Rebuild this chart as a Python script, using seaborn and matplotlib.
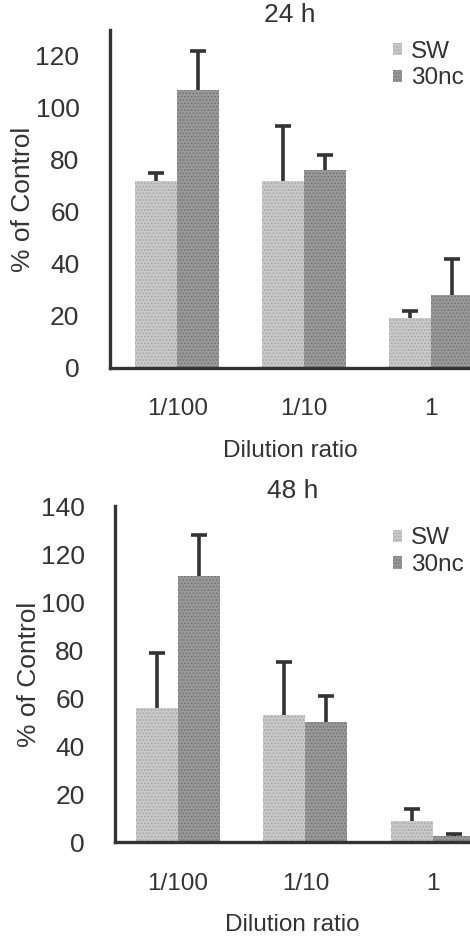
import numpy as np
import pandas as pd
import matplotlib
matplotlib.use('Agg')
import matplotlib.pyplot as plt
import seaborn as sns
from matplotlib.patches import Patch

# data
dilution = ['1/100', '1/10', '1']
groups = ['SW', '30nc']

sw_24 = [72, 72, 19]
nc_24 = [107, 76, 28]
sw_24_err = [3, 21, 3]
nc_24_err = [15, 6, 14]

sw_48 = [56, 53, 9]
nc_48 = [111, 50, 2.5]
sw_48_err = [23, 22, 5]
nc_48_err = [17, 11, 1.2]

sns.set_style('white')
plt.rcParams['font.family'] = ['Liberation Sans', 'DejaVu Sans']
plt.rcParams['hatch.linewidth'] = 0.8

colors = {'SW': '#c9c9c9', '30nc': '#999999'}
hatch_col = {'SW': '#a6a6a6', '30nc': '#747474'}
ink = '#333333'


def make_df(sw, nc):
    return pd.DataFrame({
        'Dilution ratio': dilution * 2,
        'group': ['SW'] * 3 + ['30nc'] * 3,
        'value': list(sw) + list(nc),
    })


def panel(ax, sw, nc, sw_err, nc_err, title, ymax, yticks, xlim):
    df = make_df(sw, nc)
    sns.barplot(data=df, x='Dilution ratio', y='value', hue='group',
                hue_order=groups, order=dilution, palette=colors,
                width=0.66, errorbar=None, ax=ax, legend=False)
    # texture + one-sided error bars (upper cap only)
    for cont, g, err in zip(ax.containers, groups, [sw_err, nc_err]):
        xs, ys = [], []
        for p in cont.patches:
            p.set_hatch('.....')
            p.set_edgecolor(hatch_col[g])
            p.set_linewidth(0)
            xs.append(p.get_x() + p.get_width() / 2)
            ys.append(p.get_height())
        eb = ax.errorbar(xs, ys, yerr=[np.zeros(len(err)), err], fmt='none',
                         ecolor=ink, elinewidth=2.6, capsize=5.5, capthick=2.6,
                         zorder=1)
        eb[1][0].set_visible(False)
    ax.set_ylim(0, ymax)
    ax.set_yticks(yticks)
    ax.set_xlim(*xlim)
    ax.set_title(title, fontsize=19, color=ink, pad=6)
    ax.set_ylabel('% of Control', fontsize=19, color=ink, labelpad=0)
    ax.set_xlabel('Dilution ratio', fontsize=17.5, color=ink, labelpad=14)
    ax.tick_params(axis='y', direction='in', length=7, width=2.2,
                   labelsize=19, pad=22, colors=ink)
    ax.tick_params(axis='x', length=0, labelsize=17.5, pad=22, colors=ink)
    sns.despine(ax=ax)
    for s in ['left', 'bottom']:
        ax.spines[s].set_linewidth(2.4)
        ax.spines[s].set_color(ink)
    handles = [Patch(facecolor=colors[g], edgecolor=hatch_col[g],
                     hatch='.....', linewidth=0) for g in groups]
    return handles


fig = plt.figure(figsize=(4.7, 9.36), dpi=100)
ax1 = fig.add_axes([0.234, 0.607, 0.766, 0.361])
ax2 = fig.add_axes([0.245, 0.100, 0.755, 0.359])

h1 = panel(ax1, sw_24, nc_24, sw_24_err, nc_24_err, '24 h', 130,
           [0, 20, 40, 60, 80, 100, 120], (-0.53, 2.31))
h2 = panel(ax2, sw_48, nc_48, sw_48_err, nc_48_err, '48 h', 140,
           [0, 20, 40, 60, 80, 100, 120, 140], (-0.49, 2.29))

for ax, h, y in [(ax1, h1, 0.967), (ax2, h2, 0.447)]:
    fig.legend(h, groups, loc='upper left', bbox_to_anchor=(0.815, y),
               frameon=False, fontsize=17.5, handlelength=0.4,
               handleheight=0.4, handletextpad=0.35, labelspacing=0.2,
               labelcolor=ink, borderaxespad=0)

fig.savefig('out.png', dpi=100)
